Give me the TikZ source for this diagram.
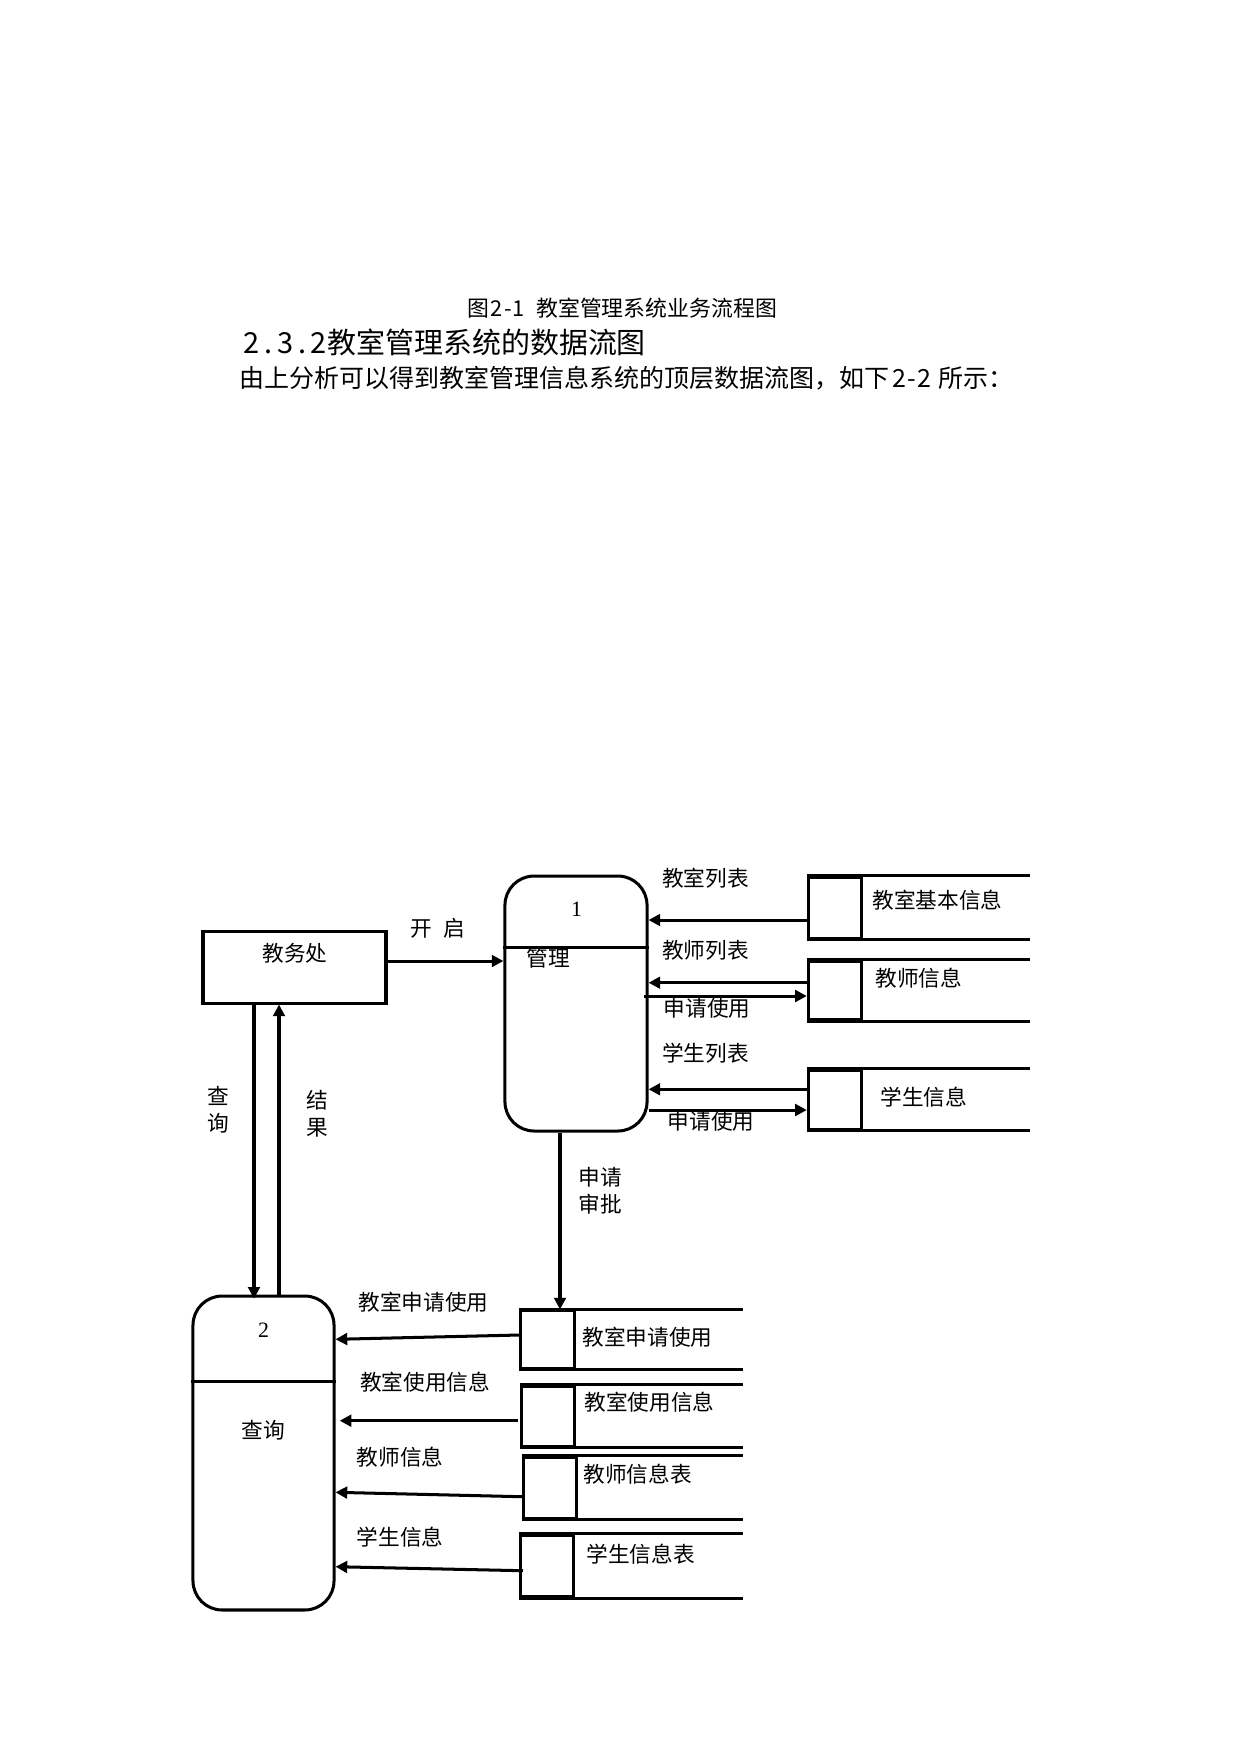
\documentclass[tikz,border=0pt]{standalone}
\usepackage{fontspec}
\setmainfont{Noto Sans CJK SC}
\newfontfamily\numfont{Liberation Serif}
\usetikzlibrary{arrows.meta}
\tikzset{
  lw/.style={line width=1.45pt},
  arr/.style={lw,-{Triangle[length=5.6pt,width=5.6pt]}},
  lbl/.style={inner sep=0pt,font=\fontsize{10.4}{12}\selectfont},
  proc/.style={draw,lw,rounded corners=14pt,inner sep=0pt},
  entity/.style={draw,lw,inner sep=0pt},
  sid/.style={draw,lw,inner sep=0pt,minimum width=25.6pt},
  stxt/.style={lbl,anchor=west},
  num/.style={inner sep=0pt,font=\numfont\fontsize{10.5}{12}\selectfont}
}
\newcommand{\hw}[1]{\makebox[0.5em]{#1}}
\begin{document}
\begin{tikzpicture}[x=0.48pt,y=-0.48pt]
\useasboundingbox (0,0) rectangle (1240,1754);
% header texts
\node[anchor=west,inner sep=0pt,font=\fontsize{10.5}{12}\selectfont] (cap) at (467,308) {图\hspace{0.1em}\hw{2}\hw{-}\hw{1}\hspace{0.55em}教室管理系统业务流程图};
\node[anchor=west,inner sep=0pt,font=\fontsize{13.9}{16}\selectfont] (head) at (243,342) {\makebox[0.58em]{2}\makebox[0.58em]{.}\makebox[0.58em]{3}\makebox[0.58em]{.}\makebox[0.58em]{2}教室管理系统的数据流图};
\node[anchor=west,inner sep=0pt,font=\fontsize{12}{14}\selectfont] (body) at (239,378) {由上分析可以得到教室管理信息系统的顶层数据流图，如下\hspace{0.15em}\hw{2}\hw{-}\hw{2}\hspace{0.3em}所示：};

% entity
\node[entity,minimum width=87.84pt,minimum height=34.56pt] (jw) at (294.5,967) {};
\node[lbl] (jwt) at (295,953) {教务处};

% process 1
\node[proc,minimum width=68.2pt,minimum height=122.4pt] (p1) at (576,1003.5) {};
\coordinate (d1) at (0,947);
\draw[lw] (p1.west |- d1) -- (p1.east |- d1);
\node[num] (p1n) at (576.5,909) {1};
\node[lbl] (p1t) at (548,958) {管理};

% process 2
\node[proc,minimum width=67.7pt,minimum height=150.7pt] (p2) at (263.5,1453) {};
\coordinate (d2) at (0,1381);
\draw[lw] (p2.west |- d2) -- (p2.east |- d2);
\node[num] (p2n) at (263.5,1330) {2};
\node[lbl] (p2t) at (263,1430) {查询};

% data stores (top right)
\node[sid,minimum height=29.3pt] (s1) at (835,907.5) {};
\node[sid,minimum height=28.3pt] (s2) at (835,990.5) {};
\node[sid,minimum height=28.5pt] (s3) at (835,1099.7) {};
\coordinate (r1) at (1030,0);
\foreach \s in {s1,s2,s3}{
  \draw[lw] (\s.north west) -- (\s.north west -| r1);
  \draw[lw] (\s.south west) -- (\s.south west -| r1);
}
\node[stxt] (s1t) at (872,900) {教室基本信息};
\node[stxt] (s2t) at (875,978) {教师信息};
\node[stxt] (s3t) at (880,1097) {学生信息};

% data stores (bottom)
\node[sid,minimum height=27.4pt] (sa) at (547.5,1339.5) {};
\node[sid,minimum height=28.8pt] (sb) at (548,1416) {};
\node[sid,minimum height=29.3pt] (sc) at (550,1487.5) {};
\node[sid,minimum height=29.5pt] (sd) at (547,1566) {};
\coordinate (r2) at (743,0);
\foreach \s in {sa,sb,sc,sd}{
  \draw[lw] (\s.north west) -- (\s.north west -| r2);
  \draw[lw] (\s.south west) -- (\s.south west -| r2);
}
\node[stxt] (sat) at (582,1337) {教室申请使用};
\node[stxt] (sbt) at (584,1402) {教室使用信息};
\node[stxt] (sct) at (583,1474) {教师信息表};
\node[stxt] (sdt) at (586,1554) {学生信息表};

% flows
\coordinate (y0) at (0,961);
\draw[arr] (jw.east |- y0) -- (p1.west |- y0);
\node[lbl] (l0) at (438,928) {开\hspace{0.5em}启};

\coordinate (xq) at (254,0);
\coordinate (xr) at (279,0);
\draw[arr] (jw.south -| xq) -- ([yshift=-2pt]p2.north -| xq);
\draw[arr] (p2.north -| xr) -- (jw.south -| xr);
\node[lbl,align=center] (lq) at (218,1110) {查\\[1pt]询};
\node[lbl,align=center] (lr) at (317,1114) {结\\[1pt]果};

\coordinate (xs) at (560,0);
\draw[arr] (p1.south -| xs) -- (sa.north -| xs);
\node[lbl,align=left] (ls) at (600,1191) {申请\\[1pt]审批};

\coordinate (ya) at (0,920);
\draw[arr] (s1.west |- ya) -- (p1.east |- ya);
\node[lbl] (la) at (705.5,878) {教室列表};
\coordinate (yb) at (0,982.7);
\draw[arr] (s2.west |- yb) -- (p1.east |- yb);
\node[lbl] (lb) at (705.5,950.7) {教师列表};
\coordinate (yc) at (0,996);
\draw[arr] ([xshift=-2pt]p1.east |- yc) -- (s2.west |- yc);
\node[lbl] (lc) at (707,1008) {申请使用};
\coordinate (yd) at (0,1089.3);
\draw[arr] (s3.west |- yd) -- (p1.east |- yd);
\node[lbl] (ld) at (705.5,1053) {学生列表};
\coordinate (ye) at (0,1110);
\draw[arr] (p1.east |- ye) -- (s3.west |- ye);
\node[lbl] (le) at (711,1121.7) {申请使用};

% flows to process 2
\coordinate (yA1) at (0,1335); \coordinate (yA2) at (0,1339.3);
\draw[arr] (sa.west |- yA1) -- (p2.east |- yA2);
\node[lbl] (lA) at (423.5,1302) {教室申请使用};
\coordinate (yB) at (0,1420.7);
\draw[arr] ([xshift=-1pt]sb.west |- yB) -- ([xshift=2pt]p2.east |- yB);
\node[lbl] (lB) at (425,1382) {教室使用信息};
\coordinate (yC1) at (0,1496.7); \coordinate (yC2) at (0,1492.3);
\draw[arr] (sc.west |- yC1) -- (p2.east |- yC2);
\node[lbl] (lC) at (400,1457) {教师信息};
\coordinate (yD1) at (0,1570.7); \coordinate (yD2) at (0,1566.7);
\draw[arr] ([xshift=2pt]sd.west |- yD1) -- (p2.east |- yD2);
\node[lbl] (lD) at (400,1537) {学生信息};
\end{tikzpicture}
\end{document}
